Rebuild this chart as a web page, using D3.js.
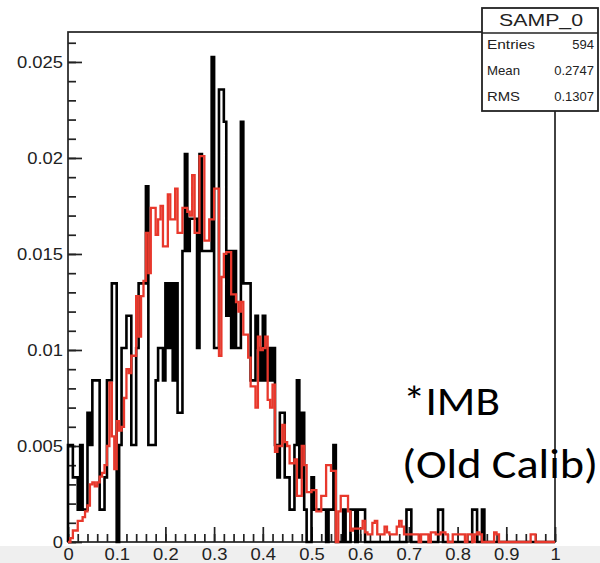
<!DOCTYPE html>
<html>
<head>
<meta charset="utf-8">
<script src="https://cdn.jsdelivr.net/npm/d3@7"></script>
<style>
  body { margin: 0; background: #fff; }
  svg { display: block; }
</style>
</head>
<body>
<svg id="chart" width="600" height="563"></svg>
<script>
// SAMP_0: 200 bins of 0.005, black = entries per bin (normalised by 594)
const nEntries = 594;
const binWidth = 0.005;
const blackCounts = [
  3,3, 2,2, 1,3, 1,1, 4,3, 5,5, 5,1, 1,2, 5,5, 8,8,
  0,3, 6,6, 7,7, 3,3, 6,8, 8,8, 11,3, 3,3, 5,6, 6,5,
  8,6, 8,5, 8,4, 4,9, 12,9, 10,10, 10,6, 12,9, 9,9, 9,15,
  6,6, 14,14, 13,7, 9,6, 9,6, 6,13, 8,8, 8,5, 5,7, 6,5,
  7,5, 6,5, 6,3, 2,4, 4,2, 2,1, 1,3, 5,2, 4,1, 0,0,
  2,1, 1,1, 1,1, 0,1, 1,3, 0,0, 0,1, 0,0, 1,1, 0,1,
  1,1, 0,0, 0,0, 0,0, 0,0, 0,0, 0,0, 0,0, 0,0, 0,1,
  1,0, 0,0, 0,0, 0,0, 0,0, 0,0, 1,1, 0,0, 0,0, 0,0,
  0,0, 0,0, 0,0, 1,1, 0,0, 1,0, 0,0, 0,0, 0,0, 0,0,
  0,0, 0,0, 0,0, 0,0, 0,0, 0,0, 0,0, 0,0, 0,0, 0,0
];
// red overlay, bin contents as drawn
const redValues = [
  0,0.0002, 0.0006,0.0006, 0.0011,0.0011, 0.0013,0.0016, 0.0019,0.0030,
  0.0031,0.0029, 0.0031,0.0034, 0.0036,0.0040, 0.0050,0.0083, 0.0055,0.0038,
  0.0063,0.0058, 0.0060,0.0075, 0.0090,0.0088, 0.0097,0.0097, 0.0128,0.0107,
  0.0128,0.0136, 0.0161,0.0140, 0.0174,0.0174, 0.0160,0.0168, 0.0175,0.0154,
  0.0154,0.0181, 0.0168,0.0168, 0.0184,0.0161, 0.0161,0.0174, 0.0174,0.0172,
  0.0170,0.0191, 0.0161,0.0161, 0.0201,0.0201, 0.0157,0.0157, 0.0168,0.0168,
  0.0184,0.0184, 0.0097,0.0138, 0.0150,0.0151, 0.0151,0.0129, 0.0129,0.0125,
  0.0120,0.0125, 0.0108,0.0108, 0.0096,0.0081, 0.0081,0.0070, 0.0107,0.0100,
  0.0101,0.0107, 0.0074,0.0070, 0.0082,0.0047, 0.0050,0.0050, 0.0061,0.0052,
  0.0050,0.0041, 0.0041,0.0043, 0.0024,0.0024, 0.0050,0.0040, 0.0026,0.0026,
  0.0027,0.0027, 0.0016,0.0016, 0.0024,0.0024, 0.0040,0.0040, 0.0037,0.0037,
  0,0.0016, 0.0024,0.0024, 0.0024,0.0016, 0.0006,0.0007, 0.0007,0.0007,
  0.0007,0.0011, 0.0005,0.0004, 0.0004,0.0010, 0.0011,0.0004, 0.0004,0.0004,
  0.0008,0.0005, 0.0004,0.0004, 0.0004,0.0008, 0.0011,0.0008, 0.0004,0.0004,
  0.0004,0.0004, 0.0004,0.0004, 0,0.0004, 0.0004,0.0004, 0,0.0005,
  0.0005,0.0004, 0.0004,0.0005, 0.0005,0.0004, 0,0, 0.0004,0.0004,
  0.0004,0.0004, 0.0004,0, 0.0004,0.0004, 0,0.0004, 0.0005,0.0004,
  0,0, 0,0, 0,0.0005, 0.0004,0, 0,0,
  0,0, 0,0, 0,0, 0,0, 0,0,
  0.0004,0.0004, 0,0, 0,0, 0,0, 0,0
];
const yMajorTicks = [0, 0.005, 0.01, 0.015, 0.02, 0.025];
const yTickLabels = ["0", "0.005", "0.01", "0.015", "0.02", "0.025"];
const xMajorTicks = [0, 0.1, 0.2, 0.3, 0.4, 0.5, 0.6, 0.7, 0.8, 0.9, 1];
const xTickLabels = ["0", "0.1", "0.2", "0.3", "0.4", "0.5", "0.6", "0.7", "0.8", "0.9", "1"];
const statsTitle = "SAMP_0";
const statsRows = [["Entries", "594"], ["Mean", "0.2747"], ["RMS", "0.1307"]];
const noteLines = ["*IMB", "(Old Calib)"];

const frame = { left: 68, right: 555, top: 32, bottom: 542 };
const yMax = 0.02656;

const svg = d3.select("#chart");

const x = d3.scaleLinear().domain([0, 1]).range([frame.left, frame.right]);
const y = d3.scaleLinear().domain([0, yMax]).range([frame.bottom, frame.top]);

// light grey strip at the very bottom (from the screenshot)
svg.append("rect")
  .attr("x", 0).attr("y", 546).attr("width", 600).attr("height", 17)
  .attr("fill", "#efefef");

// frame
svg.append("rect")
  .attr("x", frame.left).attr("y", frame.top)
  .attr("width", frame.right - frame.left).attr("height", frame.bottom - frame.top)
  .attr("fill", "#fff").attr("stroke", "#222").attr("stroke-width", 1.7);

const labelFont = "'Liberation Sans', Arial, sans-serif";

// y axis: minor ticks every 0.001, major every 0.005, ticks point inwards
svg.append("g")
  .attr("transform", `translate(${frame.left},0)`)
  .call(d3.axisLeft(y).tickValues(d3.range(0, yMax, 0.001)).tickSize(-8).tickSizeOuter(0).tickFormat(""))
  .call(g => g.select(".domain").remove());

const yAxis = svg.append("g")
  .attr("transform", `translate(${frame.left},0)`)
  .call(d3.axisLeft(y).tickValues(yMajorTicks).tickSize(-14).tickSizeOuter(0).tickPadding(5)
    .tickFormat((d, i) => yTickLabels[i]))
  .call(g => g.select(".domain").remove());

// x axis: minor every 0.02, major every 0.1
svg.append("g")
  .attr("transform", `translate(0,${frame.bottom})`)
  .call(d3.axisBottom(x).tickValues(d3.range(0, 1.001, 0.02)).tickSize(-8).tickSizeOuter(0).tickFormat(""))
  .call(g => g.select(".domain").remove());

const xAxis = svg.append("g")
  .attr("transform", `translate(0,${frame.bottom})`)
  .call(d3.axisBottom(x).tickValues(xMajorTicks).tickSize(-15).tickSizeOuter(0).tickPadding(7)
    .tickFormat((d, i) => xTickLabels[i]))
  .call(g => g.select(".domain").remove());

svg.selectAll(".tick line").attr("stroke", "#222").attr("stroke-width", 1.7);

// ROOT labels look a little wider than plain Helvetica
yAxis.selectAll("text")
  .attr("font-family", labelFont).attr("font-size", 16).attr("fill", "#222")
  .attr("x", 0).attr("dy", "0.35em")
  .attr("transform", "translate(-5,0) scale(1.15,1)");
xAxis.selectAll("text")
  .attr("font-family", labelFont).attr("font-size", 16).attr("fill", "#222")
  .attr("y", 0).attr("dy", "0.71em")
  .attr("transform", "translate(0,7) scale(1.15,1)");

// step outlines
function stepPoints(vals) {
  const pts = [[0, 0]];
  vals.forEach((v, i) => pts.push([i * binWidth, v]));
  pts.push([vals.length * binWidth, vals[vals.length - 1]]);
  pts.push([vals.length * binWidth, 0]);
  return pts;
}
const stepLine = d3.line()
  .x(d => x(d[0]))
  .y(d => y(d[1]))
  .curve(d3.curveStepAfter);

const blackValues = blackCounts.map(c => c / nEntries);

svg.append("path")
  .attr("d", stepLine(stepPoints(blackValues)))
  .attr("fill", "none")
  .attr("stroke", "#000")
  .attr("stroke-width", 2.6);

svg.append("path")
  .attr("d", stepLine(stepPoints(redValues)))
  .attr("fill", "none")
  .attr("stroke", "#e8382c")
  .attr("stroke-width", 2.3);

// stats box
const stats = svg.append("g");
stats.append("rect")
  .attr("x", 482).attr("y", 8).attr("width", 116).attr("height", 103)
  .attr("fill", "#fff").attr("stroke", "#222").attr("stroke-width", 1.8);
stats.append("line")
  .attr("x1", 482).attr("x2", 598).attr("y1", 33).attr("y2", 33)
  .attr("stroke", "#222").attr("stroke-width", 1.4);
stats.append("text")
  .attr("x", 499).attr("y", 26)
  .attr("font-family", labelFont).attr("font-size", 16).attr("fill", "#222")
  .attr("textLength", 84).attr("lengthAdjust", "spacingAndGlyphs")
  .text(statsTitle);

const rowY = [49, 75, 101];
const labelWidths = [48, 33, 33];
statsRows.forEach(([label, value], i) => {
  stats.append("text")
    .attr("x", 487).attr("y", rowY[i])
    .attr("font-family", labelFont).attr("font-size", 13).attr("fill", "#222")
    .attr("textLength", labelWidths[i]).attr("lengthAdjust", "spacingAndGlyphs")
    .text(label);
  stats.append("text")
    .attr("x", 594).attr("y", rowY[i]).attr("text-anchor", "end")
    .attr("font-family", labelFont).attr("font-size", 13).attr("fill", "#222")
    .text(value);
});

// annotation
const noteX = [403, 402];
const noteY = [415, 478];
const noteW = [97, 196];
noteLines.forEach((t, i) => {
  svg.append("text")
    .attr("x", noteX[i]).attr("y", noteY[i])
    .attr("font-family", "Carlito, Calibri, Lato, 'Open Sans', sans-serif")
    .attr("font-size", 40).attr("fill", "#000")
    .attr("textLength", noteW[i]).attr("lengthAdjust", "spacingAndGlyphs")
    .text(t);
});
</script>
</body>
</html>
